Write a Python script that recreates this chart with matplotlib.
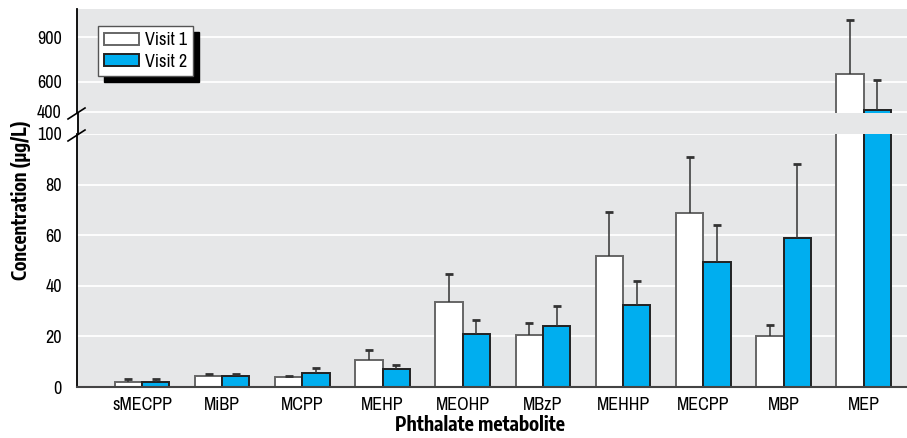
import numpy as np
import matplotlib
matplotlib.use('Agg')
import matplotlib.pyplot as plt
from matplotlib.patches import Rectangle
from matplotlib.lines import Line2D

REG = ['Archivo Narrow', 'Liberation Sans Narrow', 'DejaVu Sans']
BOLD = ['Encode Sans Condensed', 'Liberation Sans Narrow', 'DejaVu Sans']
plt.rcParams['font.family'] = REG

metabolites = ['sMECPP', 'MiBP', 'MCPP', 'MEHP', 'MEOHP', 'MBzP', 'MEHHP', 'MECPP', 'MBP', 'MEP']
visit1 = [2.1, 4.2, 3.8, 10.7, 33.7, 20.4, 51.9, 68.9, 20.0, 651]
visit1_top = [3.0, 5.3, 4.2, 14.7, 44.8, 25.2, 69.0, 91.0, 24.6, 1013]
visit2 = [2.1, 4.2, 5.7, 7.0, 21.1, 24.2, 32.4, 49.5, 59.0, 411]
visit2_top = [3.0, 5.3, 7.4, 8.8, 26.5, 32.1, 42.0, 64.0, 88.0, 613]
low_ticks = [0, 20, 40, 60, 80, 100]
high_ticks = [400, 600, 900]

BG = '#e6e7e8'
BLUE = '#00aeef'
W, H = 907, 438

fig = plt.figure(figsize=(W / 100, H / 100), dpi=100)

def frac(x0, y0, x1, y1):
    # pixel box (top-left origin) -> figure fraction
    return [x0 / W, 1 - y1 / H, (x1 - x0) / W, (y1 - y0) / H]

ax_lo = fig.add_axes(frac(77, 134, 907, 387))
ax_hi = fig.add_axes(frac(77, 9, 907, 113))

# gap band between the two parts
fig.patches.append(Rectangle((77 / W, 1 - 134 / H), 830 / W, 21 / H,
                             transform=fig.transFigure, facecolor=BG, edgecolor='none', zorder=0))
fig.add_artist(Line2D([77.5 / W, 77.5 / W], [1 - 134 / H, 1 - 113 / H], color='black', lw=1.3))

x = np.arange(len(metabolites))
bw = 0.34
v1 = np.array(visit1)
v2 = np.array(visit2)
e1 = np.array(visit1_top) - v1
e2 = np.array(visit2_top) - v2

for ax in (ax_lo, ax_hi):
    ax.set_facecolor(BG)
    ax.bar(x - bw / 2, v1, bw, color='white', edgecolor='#666666', lw=1.4, zorder=2, label='Visit 1')
    ax.bar(x + bw / 2, v2, bw, color=BLUE, edgecolor='#222222', lw=1.4, zorder=2, label='Visit 2')
    for xs, v, e in ((x - bw / 2, v1, e1), (x + bw / 2, v2, e2)):
        eb = ax.errorbar(xs, v, yerr=[np.zeros_like(e), e], fmt='none', ecolor='#333333',
                         elinewidth=1.1, capsize=3, capthick=2, zorder=3)
        eb[1][0].set_visible(False)  # no cap at the bar top
    ax.set_xlim(-0.81, 9.54)
    ax.yaxis.grid(True, color='white', lw=1.3, zorder=0)
    ax.set_axisbelow(True)
    for s in ('top', 'right'):
        ax.spines[s].set_visible(False)
    ax.spines['left'].set_color('black')
    ax.spines['left'].set_linewidth(1.3)
    ax.tick_params(axis='both', length=0, labelsize=13)
    ax.tick_params(axis='y', pad=11)

ax_lo.set_ylim(0, 100)
ax_lo.set_yticks(low_ticks)
ax_lo.set_xticks(x)
ax_lo.set_xticklabels(metabolites)
ax_lo.tick_params(axis='x', pad=7)
ax_lo.spines['bottom'].set_color('#444444')
ax_lo.spines['bottom'].set_linewidth(1.5)

ax_hi.set_ylim(393, 1087)
ax_hi.set_yticks(high_ticks)
ax_hi.set_xticks([])
ax_hi.spines['bottom'].set_visible(False)

leg = ax_hi.legend(loc='upper left', bbox_to_anchor=(21 / 830, 1 - 17 / 104), fontsize=13,
                   frameon=True, fancybox=False, edgecolor='#555555', framealpha=1,
                   shadow={'color': 'black', 'alpha': 1, 'ox': 4, 'oy': -4},
                   handlelength=1.9, handleheight=0.65, handletextpad=0.35,
                   borderpad=0.35, labelspacing=0.3, borderaxespad=0)
leg.get_frame().set_linewidth(1.0)

# axis break marks
for yp in (113.5, 135.5):
    fig.add_artist(Line2D([68 / W, 85 / W], [1 - (yp + 5.5) / H, 1 - (yp - 5.5) / H],
                          color='black', lw=1.2))

fig.text(21 / W, 1 - 200 / H, 'Concentration (µg/L)', rotation=90, ha='center', va='center',
         fontsize=13.5, fontweight='bold', family=BOLD)
fig.text(480 / W, 1 - 425 / H, 'Phthalate metabolite', ha='center', va='center',
         fontsize=14, fontweight='bold', family=BOLD)

fig.savefig('out.png', dpi=100)
